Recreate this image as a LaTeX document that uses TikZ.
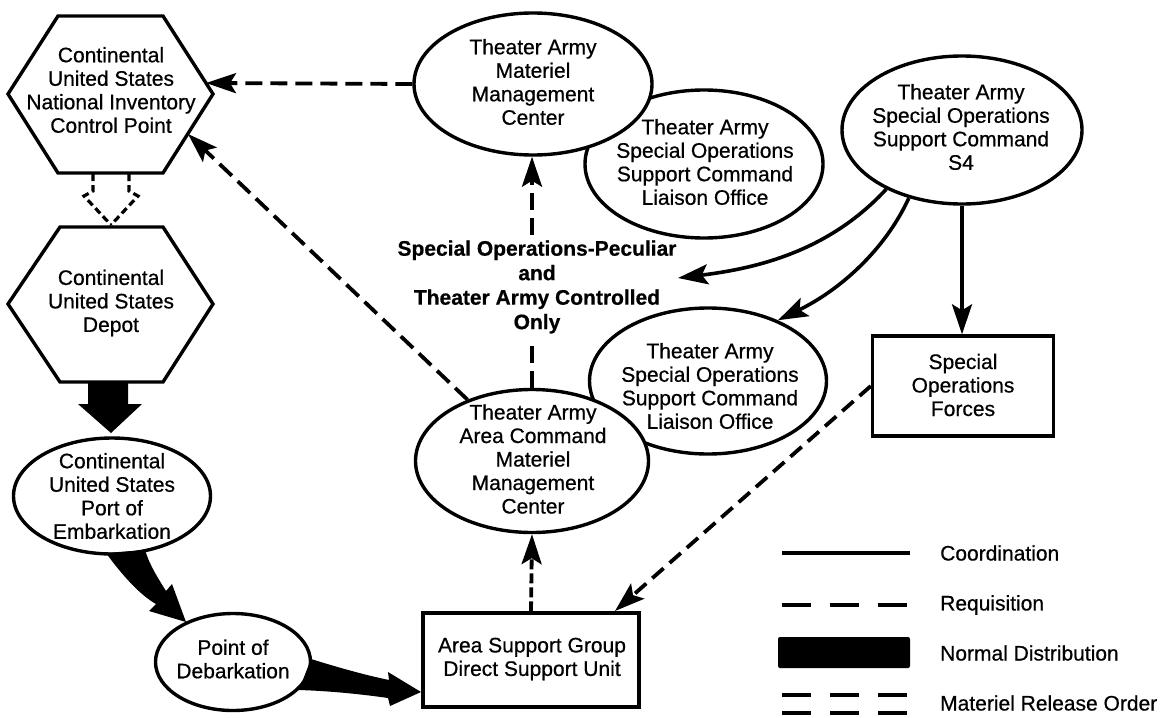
\documentclass[tikz,border=0pt]{standalone}
\usepackage{fontspec}
\setmainfont{Liberation Sans}[FakeBold=0.6]
\usetikzlibrary{shapes.geometric,arrows.meta}

\begin{document}
\begin{tikzpicture}[x=1pt,y=-1pt,
  every node/.style={font=\fontsize{21}{23.5}\selectfont, align=center, inner sep=0pt},
  oval/.style={draw, ellipse, line width=3.4pt, fill=white},
  box/.style={draw, rectangle, line width=3.4pt, fill=white},
  hexline/.style={line width=3.4pt, line join=miter},
  req/.style={line width=3.8pt, dash pattern=on 17pt off 8pt},
  mro/.style={line width=3.2pt, dash pattern=on 7pt off 4pt},
  coord/.style={line width=3.6pt},
  tip/.style={-{Stealth[length=30pt,width=20pt,inset=6pt]}},
  legtext/.style={anchor=west},
]
% canvas
\fill[white] (0,0) rectangle (1169,717);
\useasboundingbox (0,0) rectangle (1169,717);

% ---- hexagons (national inventory control point, depot)
\draw[hexline] (58,16) -- (163,16) -- (213,94) -- (163,173) -- (58,173) -- (8,94) -- cycle;
\node (nicp) at (111,90) {Continental\\United States\\National Inventory\\Control Point};
\coordinate (nicpR) at (206,83);
\coordinate (nicpL) at (188,134);
\coordinate (nicpB1) at (93,174);
\coordinate (nicpB2) at (129,174);

\draw[hexline] (60,227) -- (163,227) -- (213,304) -- (163,382) -- (60,382) -- (8,304) -- cycle;
\node (depot) at (111,303) {Continental\\United States\\Depot};
\coordinate (depotT) at (111,225);

% ---- ovals (liaison offices behind their neighbours)
\node[oval, minimum width=238pt, minimum height=148pt] (lia1) at (704,164) {};
\node (lia1t) at (705,162) {Theater Army\\Special Operations\\Support Command\\Liaison Office};
\node[oval, minimum width=238pt, minimum height=142pt] (tammc) at (533,84) {};
\node (tammct) at (533,82) {Theater Army\\Materiel\\Management\\Center};

\node[oval, minimum width=237pt, minimum height=146pt] (lia2) at (708,381) {};
\node (lia2t) at (710,386) {Theater Army\\Special Operations\\Support Command\\Liaison Office};
\node[oval, minimum width=233pt, minimum height=143pt] (taacom) at (532,461) {};
\node (taacomt) at (533,459) {Theater Army\\Area Command\\Materiel\\Management\\Center};

\node[oval, minimum width=240pt, minimum height=148pt] (s4) at (962,130) {};
\node (s4t) at (961,127) {Theater Army\\Special Operations\\Support Command\\S4};

\node[oval, minimum width=197pt, minimum height=116pt] (poe) at (112,496) {};
\node (poet) at (112,496) {Continental\\United States\\Port of\\Embarkation};

\node[oval, minimum width=155pt, minimum height=97pt] (pod) at (233,662) {};
\node (podt) at (233,659) {Point of\\Debarkation};

% ---- boxes
\node[box, minimum width=216pt, minimum height=94pt] (asg) at (531,660) {};
\node (asgt) at (532,659) {Area Support Group\\Direct Support Unit};
\node[box, minimum width=181pt, minimum height=100pt] (sof) at (963,386) {};
\node (soft) at (963,385) {Special\\Operations\\Forces};

% ---- caption on the requisition channel
\node[font=\fontsize{21}{24.5}\selectfont\bfseries, inner ysep=5pt] (lbl) at (537,287)
  {Special Operations-Peculiar\\and\\Theater Army Controlled\\Only};

% ---- requisitions
\draw[req,tip] (tammc.west) -- (nicpR);
\draw[req,tip] (taacom) -- (nicpL);
\draw[req] (taacom.north) -- (taacom.north |- lbl.south);
\draw[req,tip] (taacom.north |- lbl.north) -- (taacom.north |- tammc.south);
\draw[req, dash pattern=on 10pt off 4pt, tip] (asg.north) -- (taacom.south);
\coordinate (asgT) at (615,611);
\draw[req, dash pattern=on 15pt off 8pt, tip] (sof.west) -- (asgT);

% ---- materiel release order
\draw[mro] (nicpB1) -- (93,191) -- (84,196) -- (depotT);
\draw[mro] (nicpB2) -- (129,191) -- (138,196) -- (depotT);

% ---- coordination
\draw[coord,tip] (s4.south) -- (s4.south |- sof.north);
\coordinate (freeTip) at (678,278);
\draw[coord,tip] (s4.218) .. controls (830,250) and (760,268) .. (freeTip);
\draw[coord,tip] (s4.232) .. controls (885,250) and (840,290) .. (lia2.41);

% ---- normal distribution
\fill (88,381) -- (128,381) -- (128,404) -- (142,404) -- (111,433) -- (78,404) -- (88,404) -- cycle;
\fill (106,553) .. controls (122,575) and (140,595) .. (156,604) -- (149,611) -- (186,622)
  -- (172,584) -- (166,591) .. controls (158,578) and (150,566) .. (145,550) -- cycle;
\fill (311,659) .. controls (340,668) and (365,675) .. (389,680) -- (388,672) -- (421,692)
  -- (390,706) -- (388,698) .. controls (360,694) and (330,691) .. (299,690) -- cycle;

% ---- legend
\coordinate (lgA1) at (782,553); \coordinate (lgA2) at (910,553);
\draw[coord] (lgA1) -- (lgA2);
\node[legtext] (lgAt) at (940,553) {Coordination};
\coordinate (lgB1) at (782,605); \coordinate (lgB2) at (910,605);
\draw[line width=3.6pt, dash pattern=on 29pt off 19pt] (lgB1) -- (lgB2);
\node[legtext] (lgBt) at (940,605) {Requisition};
\fill[rounded corners=2pt] (778,637) rectangle (910,668);
\node[legtext] (lgCt) at (940,653) {Normal Distribution};
\coordinate (lgD1) at (782,695); \coordinate (lgD2) at (910,695);
\coordinate (lgE1) at (782,713); \coordinate (lgE2) at (910,713);
\draw[line width=3.8pt, dash pattern=on 29pt off 19pt] (lgD1) -- (lgD2);
\draw[line width=3.8pt, dash pattern=on 29pt off 19pt] (lgE1) -- (lgE2);
\node[legtext] (lgDt) at (940,703) {Materiel Release Order};
\end{tikzpicture}
\end{document}
